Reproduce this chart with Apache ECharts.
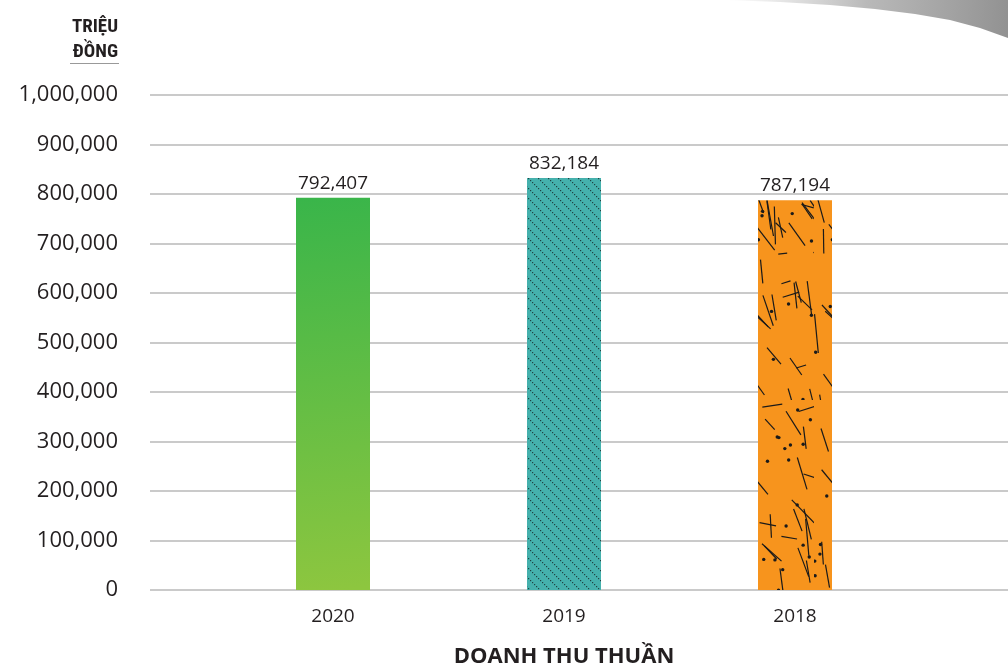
<!DOCTYPE html>
<html><head><meta charset="utf-8">
<script src="https://cdn.jsdelivr.net/npm/echarts@6/dist/echarts.min.js"></script>
<style>html,body{margin:0;padding:0;background:#fff}#c{width:1008px;height:663px}</style>
</head><body><div id="c"></div>
<script>
const categories = ['2020', '2019', '2018'];
const values = [792407, 832184, 787194];
const yTicks = [0, 100000, 200000, 300000, 400000, 500000, 600000, 700000, 800000, 900000, 1000000];
const unitLines = ['TRIỆU', 'ĐỒNG'];
const xTitle = 'DOANH THU THUẦN';

function tealPattern(){
  const c = document.createElement('canvas'); c.width = 10; c.height = 10;
  const g = c.getContext('2d');
  g.fillStyle = '#45b1ad'; g.fillRect(0,0,10,10);
  g.fillStyle = '#1f4544';
  for (let k=0;k<10;k+=2){ g.fillRect(k, k, 1.2, 1.2); }
  return c;
}
function orangePattern(){
  const W=74, H=400;
  const c = document.createElement('canvas'); c.width = W; c.height = H;
  const g = c.getContext('2d');
  g.fillStyle = '#f7941d'; g.fillRect(0,0,W,H);
  let s = 23;
  const r = () => { s = (s*9301+49297)%233280; return s/233280; };
  g.strokeStyle = '#1a1a1a'; g.fillStyle = '#1a1a1a'; g.lineWidth = 1.2;
  for (let i=0;i<58;i++){
    const x=r()*W, y=r()*H, t=r();
    let a, len;
    if (t<0.25){ a = Math.PI*(0.03+r()*0.08)*(r()<0.5?-1:1); len = 8+r()*14; }
    else if (t<0.7){ a = Math.PI*(0.38+r()*0.12); len = 18+r()*22; }
    else { a = Math.PI*(0.22+r()*0.12); len = 14+r()*20; }
    g.beginPath(); g.moveTo(x,y); g.lineTo(x+Math.cos(a)*len, y+Math.sin(a)*len); g.stroke();
  }
  for (let i=0;i<34;i++){
    g.beginPath(); g.arc(r()*W, r()*H, 1.7, 0, Math.PI*2); g.fill();
  }
  return c;
}

const barColors = [
  {type:'linear', x:0, y:0, x2:0.6, y2:1, colorStops:[{offset:0,color:'#39b54a'},{offset:1,color:'#8dc63f'}]},
  {image: tealPattern(), repeat:'repeat'},
  {image: orangePattern(), repeat:'repeat'}
];

const chart = echarts.init(document.getElementById('c'), null, {renderer:'canvas'});
const font = "'Open Sans', 'Noto Sans', sans-serif";
const condensed = "'Liberation Sans Narrow', 'Roboto Condensed', 'DejaVu Sans Condensed', sans-serif";
chart.setOption({
  animation:false,
  backgroundColor:'#fff',
  graphic:[
    {type:'polygon', silent:true,
     shape:{points:[[725,0],[780,2],[830,5],[875,9],[915,14],[950,20],[980,28],[1008,38],[1008,0]]},
     style:{fill:{type:'linear',x:0,y:0,x2:1,y2:0.3,colorStops:[{offset:0,color:'rgba(170,170,170,0)'},{offset:0.5,color:'rgba(155,155,155,0.7)'},{offset:1,color:'rgba(140,140,140,0.95)'}]}}},
    {type:'text', x:118, y:15, style:{text:unitLines.join('\n'), font:"bold 19px "+condensed, fill:'#231f20', lineHeight:25, align:'right'}},
    {type:'line', shape:{x1:70,y1:63.5,x2:119,y2:63.5}, style:{stroke:'#999',lineWidth:1.2}}
  ],
  grid:[
    {left:150, right:0, top:95, bottom:73, outerBoundsMode:'none', containLabel:false},
    {left:217.5, width:693, top:95, bottom:73, outerBoundsMode:'none', containLabel:false}
  ],
  xAxis:[
    {gridIndex:0, type:'value', show:false},
    {gridIndex:1, type:'category', data:categories,
     axisLine:{show:false}, axisTick:{show:false},
     axisLabel:{color:'#231f20', fontSize:19, fontFamily:font, margin:17},
     name:xTitle, nameLocation:'middle', nameGap:56,
     nameTextStyle:{color:'#231f20', fontSize:22, fontWeight:'bold', fontFamily:font}}
  ],
  yAxis:[
    {gridIndex:0, type:'value', min:yTicks[0], max:yTicks[yTicks.length-1], interval:yTicks[1]-yTicks[0],
     axisLine:{show:false}, axisTick:{show:false},
     axisLabel:{color:'#231f20', fontSize:22, fontFamily:font, margin:32,
       formatter:v=>v.toLocaleString('en-US')},
     splitLine:{lineStyle:{color:'#b8b8b8', width:1.5}}},
    {gridIndex:1, type:'value', min:yTicks[0], max:yTicks[yTicks.length-1], show:false, splitLine:{show:false}}
  ],
  series:[{
    type:'bar', xAxisIndex:1, yAxisIndex:1, barWidth:74,
    data: values.map((v,i)=>({value:v, itemStyle:{color:barColors[i]}})),
    label:{show:true, position:'top', distance:5, color:'#231f20', fontSize:19, fontFamily:font,
      formatter:p=>p.value.toLocaleString('en-US')}
  }]
});
</script></body></html>
